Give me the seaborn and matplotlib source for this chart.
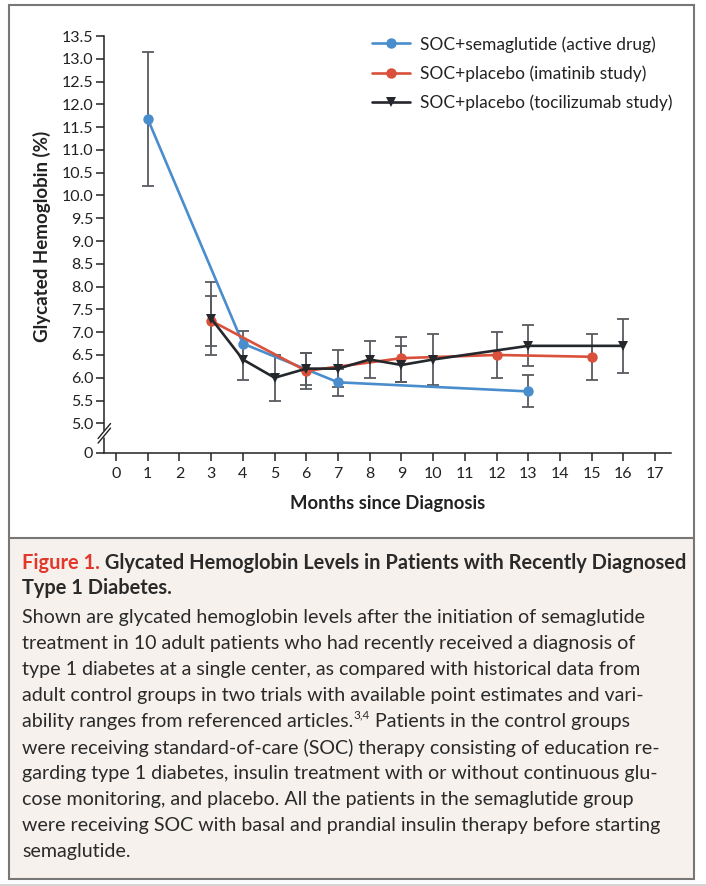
import matplotlib
matplotlib.use("Agg")
import matplotlib.pyplot as plt
import matplotlib.patches as patches
import numpy as np
import pandas as pd
import seaborn as sns

sns.set_style("ticks")
plt.rcParams['font.family'] = ['Lato', 'DejaVu Sans']

# SOC + semaglutide (active drug)
sema_months = [1, 4, 7, 13]
sema_hba1c = [11.68, 6.75, 5.9, 5.7]
sema_low = [10.2, np.nan, 5.6, 5.35]
sema_high = [13.15, np.nan, 6.2, 6.05]

# SOC + placebo (imatinib study)
imat_months = [3, 6, 9, 12, 15]
imat_hba1c = [7.25, 6.15, 6.43, 6.5, 6.46]
imat_low = [6.7, 5.75, 5.9, 6.0, 5.95]
imat_high = [7.8, 6.55, 6.9, 7.0, 6.95]

# SOC + placebo (tocilizumab study)
toci_months = [3, 4, 5, 6, 7, 8, 9, 10, 13, 16]
toci_hba1c = [7.3, 6.4, 6.0, 6.2, 6.2, 6.4, 6.28, 6.4, 6.7, 6.7]
toci_low = [6.5, 5.95, 5.5, 5.85, 5.8, 6.0, 5.9, 5.85, 6.25, 6.1]
toci_high = [8.1, 7.02, 6.5, 6.55, 6.6, 6.8, 6.7, 6.95, 7.15, 7.3]

series_names = ['SOC+semaglutide (active drug)',
                'SOC+placebo (imatinib study)',
                'SOC+placebo (tocilizumab study)']

x_ticks = list(range(0, 18))
y_ticks = [5.0 + 0.5 * i for i in range(18)]

caption_title = ['Figure 1.', ' Glycated Hemoglobin Levels in Patients with Recently Diagnosed',
                 'Type 1 Diabetes.']
caption_body = [
    'Shown are glycated hemoglobin levels after the initiation of semaglutide',
    'treatment in 10 adult patients who had recently received a diagnosis of',
    'type 1 diabetes at a single center, as compared with historical data from',
    'adult control groups in two trials with available point estimates and vari-',
    'ability ranges from referenced articles.',
    'were receiving standard-of-care (SOC) therapy consisting of education re-',
    'garding type 1 diabetes, insulin treatment with or without continuous glu-',
    'cose monitoring, and placebo. All the patients in the semaglutide group',
    'were receiving SOC with basal and prandial insulin therapy before starting',
    'semaglutide.',
]

W, H = 706, 886
fig = plt.figure(figsize=(W / 100, H / 100), dpi=100)

# panel frame and caption background
frame_top, frame_bot, sep_y = 5, 879, 538
fig.add_artist(patches.Rectangle((9 / W, 1 - frame_bot / H), 685 / W, (frame_bot - sep_y) / H,
                                 transform=fig.transFigure, facecolor='#f6f1ed',
                                 edgecolor='none', zorder=0))
fig.add_artist(patches.Rectangle((9 / W, 1 - frame_bot / H), 685 / W, (frame_bot - frame_top) / H,
                                 transform=fig.transFigure, fill=False,
                                 edgecolor='#777777', lw=1.5, zorder=1))
fig.add_artist(plt.Line2D([9 / W, 694 / W], [1 - sep_y / H, 1 - sep_y / H],
                          transform=fig.transFigure, color='#777777', lw=1.5))
fig.add_artist(plt.Line2D([0, 1], [1 - 885 / H, 1 - 885 / H],
                          transform=fig.transFigure, color='#cccccc', lw=1.2))

ax_l, ax_r, ax_t, ax_b = 104.3, 671, 36, 452.7
ax = fig.add_axes([ax_l / W, 1 - ax_b / H, (ax_r - ax_l) / W, (ax_b - ax_t) / H])

zero_pos = 5.0 - 0.645
colors = ['#4a8dcd', '#d9503b', '#24272b']
markers = ['o', 'o', 'v']
groups = [(sema_months, sema_hba1c, sema_low, sema_high),
          (imat_months, imat_hba1c, imat_low, imat_high),
          (toci_months, toci_hba1c, toci_low, toci_high)]

for (m, v, lo, hi), name, c, mk in zip(groups, series_names, colors, markers):
    v = np.array(v)
    err = [v - np.array(lo), np.array(hi) - v]
    ax.errorbar(m, v, yerr=err, fmt='none', ecolor='#575b60', elinewidth=1.3,
                capsize=4, capthick=1.3, zorder=2)

for (m, v, lo, hi), name, c, mk in zip(groups, series_names, colors, markers):
    df = pd.DataFrame({'month': m, 'hba1c': v})
    sns.lineplot(data=df, x='month', y='hba1c', ax=ax, color=c, marker=mk,
                 markersize=7.5, markeredgewidth=0, linewidth=1.9, label=name,
                 zorder=3)

ax.set_xlim(-0.37, 17.5)
ax.set_ylim(zero_pos, 13.5)
ax.set_xticks(x_ticks)
ax.set_xticklabels([str(t) for t in x_ticks])
ax.set_yticks([zero_pos] + y_ticks)
ax.set_yticklabels(['0'] + [f'{t:.1f}' for t in y_ticks])
ax.tick_params(axis='both', direction='out', length=6, width=1.1,
               color='#222222', labelcolor='#222222', labelsize=11.5)
ax.tick_params(axis='y', pad=2)
ax.tick_params(axis='x', pad=4)

sns.despine(ax=ax)
for s in ['left', 'bottom']:
    ax.spines[s].set_color('#222222')
    ax.spines[s].set_linewidth(1.1)
ax.spines['left'].set_bounds(4.86, 13.5)
ax.plot([0, 0], [zero_pos, 4.68], transform=ax.get_yaxis_transform(),
        color='#222222', lw=1.1, clip_on=False)
# break marks on the y axis
for yc in [0.041, 0.052]:
    ax.plot([-0.011, 0.011], [yc - 0.018, yc + 0.018], transform=ax.transAxes,
            color='#222222', lw=1.0, clip_on=False)

ax.set_xlabel('Months since Diagnosis', fontsize=13.3, fontweight='bold',
              color='#222222')
ax.set_ylabel('Glycated Hemoglobin (%)', fontsize=13.5, fontweight='bold',
              color='#222222')
ax.xaxis.set_label_coords(0.5, -0.123)
ax.xaxis.label.set_va('center')
ax.yaxis.set_label_coords(-0.11, 0.52)
ax.yaxis.label.set_va('center')

leg = ax.legend(loc='upper left', bbox_to_anchor=(0.4724, 1.0), frameon=False,
                fontsize=12.5, handlelength=2.2, handletextpad=0.57,
                labelspacing=0.74, borderpad=0, borderaxespad=0)
for t in leg.get_texts():
    t.set_color('#222222')

# caption
renderer = fig.canvas.get_renderer()
cap_x = 22
txt_color = '#2a2a2a'
title_size = 14.4
body_size = 14.1


def put_line(parts, y_px):
    x = cap_x / W
    for text, kw in parts:
        dy = kw.pop('dy', 0)
        t = fig.text(x, 1 - (y_px - dy) / H, text, va='center_baseline',
                     ha='left', **kw)
        bb = t.get_window_extent(renderer)
        x = bb.x1 / W


put_line([(caption_title[0], dict(fontsize=title_size, fontweight='bold', color='#e2372b')),
          (caption_title[1], dict(fontsize=title_size, fontweight='bold', color=txt_color))], 561)
put_line([(caption_title[2], dict(fontsize=title_size, fontweight='bold', color=txt_color))], 586)

y0 = 616
for i, line in enumerate(caption_body):
    y = y0 + 26 * i
    if i == 4:
        put_line([(line, dict(fontsize=body_size, color=txt_color)),
                  ('3,4', dict(fontsize=8.5, color=txt_color, dy=6)),
                  (' Patients in the control groups', dict(fontsize=body_size, color=txt_color))], y)
    else:
        put_line([(line, dict(fontsize=body_size, color=txt_color))], y)

fig.savefig('out.png', dpi=100)
